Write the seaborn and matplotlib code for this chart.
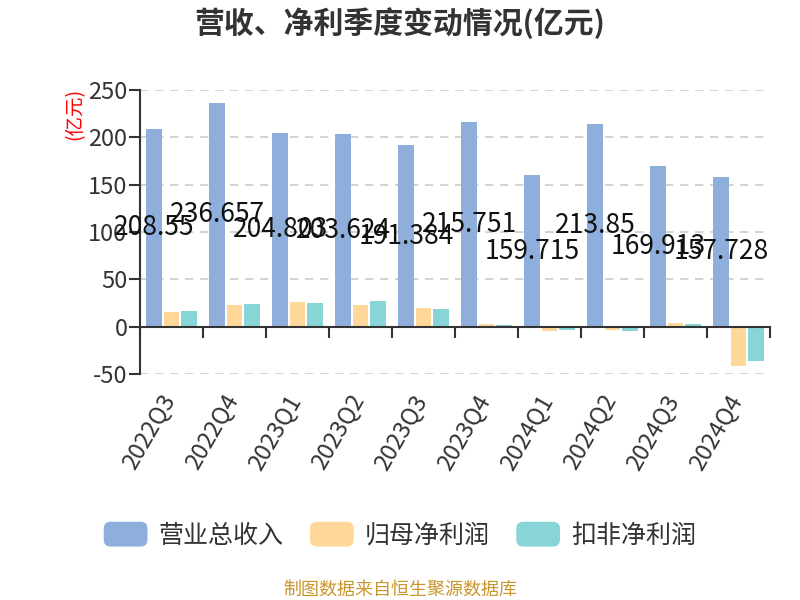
import matplotlib
matplotlib.use("Agg")
import matplotlib.pyplot as plt
import matplotlib.transforms as mtransforms
from matplotlib.patches import FancyBboxPatch, Patch
from matplotlib.legend_handler import HandlerPatch
import seaborn as sns
import pandas as pd

quarters = ["2022Q3", "2022Q4", "2023Q1", "2023Q2", "2023Q3",
            "2023Q4", "2024Q1", "2024Q2", "2024Q3", "2024Q4"]
revenue = [208.55, 236.657, 204.803, 203.624, 191.384,
           215.751, 159.715, 213.85, 169.913, 157.728]
net_profit = [16.0, 22.9, 26.3, 22.8, 19.6, 3.2, -4.6, -3.2, 4.2, -41.6]
deducted_profit = [16.5, 23.6, 25.2, 27.3, 18.6, 1.8, -3.2, -4.3, 2.8, -36.6]
series_names = ["营业总收入", "归母净利润", "扣非净利润"]
colors = ["#8EAEDB", "#FFD899", "#88D5D8"]

sns.set_theme(style="white")
plt.rcParams['font.family'] = ['Noto Sans CJK SC', 'DejaVu Sans']
plt.rcParams['axes.unicode_minus'] = False

rows = []
for q, a, b, c in zip(quarters, revenue, net_profit, deducted_profit):
    rows.append((q, series_names[0], a))
    rows.append((q, series_names[1], b))
    rows.append((q, series_names[2], c))
df = pd.DataFrame(rows, columns=["quarter", "series", "value"])

fig = plt.figure(figsize=(8, 6), dpi=100)
ax = fig.add_axes([0.175, 0.3767, 0.7875, 0.4733])

sns.barplot(data=df, x="quarter", y="value", hue="series", order=quarters,
            hue_order=series_names, palette=colors, width=0.82, gap=0.08,
            saturation=1, legend=False, ax=ax, edgecolor="none")

ax.set_xlim(-0.5, len(quarters) - 0.5)
ax.set_ylim(-50, 250)
ax.set_yticks([-50, 0, 50, 100, 150, 200, 250])
ax.set_yticklabels(["-50", "0", "50", "100", "150", "200", "250"])
ax.yaxis.grid(True, linestyle=(0, (5, 4)), color="#cccccc", linewidth=1.2)
ax.set_axisbelow(True)
ax.set_xlabel("")
ax.set_ylabel("")

for s in ["top", "right"]:
    ax.spines[s].set_visible(False)
ax.spines["left"].set_color("#333333")
ax.spines["left"].set_linewidth(1.5)
ax.spines["bottom"].set_position(("data", 0))
ax.spines["bottom"].set_color("#333333")
ax.spines["bottom"].set_linewidth(1.5)

ax.tick_params(axis="y", which="major", length=8, width=1.5, color="#333333",
               labelsize=17, labelcolor="#333333", pad=1, direction="out", left=True)
ax.set_xticks(range(len(quarters)))
ax.set_xticklabels(quarters, rotation=60, ha="right", rotation_mode="anchor")
ax.tick_params(axis="x", which="major", length=0, labelsize=17,
               labelcolor="#333333", pad=46)
offset = mtransforms.ScaledTranslation(-12 / 100, 0, fig.dpi_scale_trans)
for lbl in ax.get_xticklabels():
    lbl.set_transform(lbl.get_transform() + offset)
ax.set_xticks([i - 0.5 for i in range(len(quarters) + 1)], minor=True)
ax.tick_params(axis="x", which="minor", length=8, width=1.5, color="#333333",
               direction="out", bottom=True)

for i, v in enumerate(revenue):
    ax.text(i - 0.273, v / 2, f"{v:g}", ha="center", va="center",
            fontsize=19, color="#111111")

class RoundHandler(HandlerPatch):
    def create_artists(self, legend, orig_handle, xdescent, ydescent,
                       width, height, fontsize, trans):
        p = FancyBboxPatch((-xdescent, -ydescent), width, height,
                           boxstyle="round,pad=0,rounding_size=5",
                           facecolor=orig_handle.get_facecolor(),
                           edgecolor="none", transform=trans)
        return [p]

handles = [Patch(facecolor=c, label=n) for c, n in zip(colors, series_names)]
fig.legend(handles=handles, loc="center", bbox_to_anchor=(0.5, 0.108), ncol=3,
           frameon=False, fontsize=18, handlelength=1.75, handleheight=1.15,
           handletextpad=0.45, columnspacing=1.05,
           handler_map={Patch: RoundHandler()}, labelcolor="#333333")

fig.text(0.5, 0.962, "营收、净利季度变动情况(亿元)", ha="center", va="center",
         fontsize=21.5, fontweight="bold", color="#333333")
fig.text(0.094, 0.81, "(亿元)", ha="center", va="center", rotation=90,
         fontsize=14, color="red")
fig.text(0.5, 0.017, "制图数据来自恒生聚源数据库", ha="center", va="center",
         fontsize=13, color="#C9962B")

fig.savefig("out.png", dpi=100)
